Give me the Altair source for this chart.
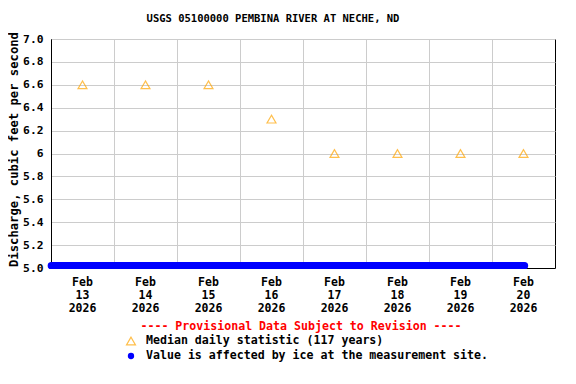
import altair as alt
import pandas as pd

# Median daily statistic (117 years), one per day at noon (day offset from Feb 13 00:00)
median_days = [0.5, 1.5, 2.5, 3.5, 4.5, 5.5, 6.5, 7.5]
median_vals = [6.6, 6.6, 6.6, 6.3, 6.0, 6.0, 6.0, 6.0]

# Ice-affected values, 15-minute readings from Feb 13 00:00 to Feb 20 ~12:30
ice_times = [i / 96 for i in range(0, 7 * 96 + 51)]
ice_vals = [5.02] * len(ice_times)

# X tick labels (centered at noon of each day)
tick_pos = [0.5, 1.5, 2.5, 3.5, 4.5, 5.5, 6.5, 7.5]
tick_labels = ["Feb\n13\n2026", "Feb\n14\n2026", "Feb\n15\n2026", "Feb\n16\n2026",
               "Feb\n17\n2026", "Feb\n18\n2026", "Feb\n19\n2026", "Feb\n20\n2026"]
y_ticks = [5.0, 5.2, 5.4, 5.6, 5.8, 6.0, 6.2, 6.4, 6.6, 6.8, 7.0]

FONT = "DejaVu Sans Mono"
W, H = 504, 229

med_df = pd.DataFrame({"x": median_days, "y": median_vals})
ice_df = pd.DataFrame({"x": ice_times, "y": ice_vals})
tick_df = pd.DataFrame({"x": tick_pos, "label": tick_labels})

xscale = alt.Scale(domain=[0, 8], nice=False, zero=False)
yscale = alt.Scale(domain=[5.0, 7.0], nice=False, zero=False)

xaxis = alt.Axis(values=[1, 2, 3, 4, 5, 6, 7], labels=False, ticks=False, title=None,
                 grid=True, gridColor="#cccccc", domainColor="black")
yaxis = alt.Axis(values=y_ticks, ticks=False, grid=True, gridColor="#cccccc",
                 domainColor="black", labelOverlap=False, labelBound=False,
                 labelExpr="datum.value == 6 ? '6' : format(datum.value, '.1f')",
                 labelFont=FONT, labelFontWeight="bold", labelFontSize=11.3,
                 labelColor="black", labelPadding=8,
                 title="Discharge, cubic feet per second", titleFont=FONT,
                 titleFontWeight="bold", titleFontSize=12.2, titleColor="black",
                 titleX=-38, titleY=110, titleAlign="center", titleBaseline="middle",
                 titleAngle=270)

ice = alt.Chart(ice_df).mark_point(filled=True, shape="circle", size=45,
                                   color="#0000ff", opacity=1, clip=False).encode(
    x=alt.X("x:Q", scale=xscale, axis=xaxis),
    y=alt.Y("y:Q", scale=yscale, axis=yaxis),
)

med = alt.Chart(med_df).mark_point(shape="triangle-up", filled=False, size=80,
                                   color="#ffa500", strokeWidth=1.2).encode(
    x=alt.X("x:Q", scale=xscale, axis=xaxis),
    y=alt.Y("y:Q", scale=yscale, axis=yaxis),
)

ticks = alt.Chart(tick_df).mark_text(font=FONT, fontWeight="bold", fontSize=11.5,
                                     lineBreak="\n", lineHeight=13, baseline="top",
                                     color="black").encode(
    x=alt.X("x:Q", scale=xscale, axis=xaxis),
    y=alt.value(H + 9),
    text="label:N",
)

def label(txt, x, y, color="black", align="center", size=11.6):
    return alt.Chart(pd.DataFrame({"t": [txt]})).mark_text(
        font=FONT, fontWeight="bold", fontSize=size, color=color, align=align,
        baseline="middle").encode(x=alt.value(x), y=alt.value(y), text="t:N")

title = label("USGS 05100000 PEMBINA RIVER AT NECHE, ND", 222, -20, size=10.5)
prov = label("---- Provisional Data Subject to Revision ----", 250, 327 - 39, color="#ff0000")
leg1_sym = alt.Chart(pd.DataFrame({"a": [0]})).mark_point(
    shape="triangle-up", filled=False, size=80, color="#ffa500", strokeWidth=1.2).encode(
    x=alt.value(131 - 51), y=alt.value(341 - 39))
leg1 = label("Median daily statistic (117 years)", 146 - 51, 341 - 39, align="left")
leg2_sym = alt.Chart(pd.DataFrame({"a": [0]})).mark_point(
    shape="circle", filled=True, size=40, color="#0000ff", opacity=1).encode(
    x=alt.value(131 - 51), y=alt.value(356 - 39))
leg2 = label("Value is affected by ice at the measurement site.", 146 - 51, 356 - 39, align="left")

chart = alt.layer(ice, med, ticks, title, prov, leg1_sym, leg1, leg2_sym, leg2).properties(
    width=W, height=H,
    autosize=alt.AutoSizeParams(type="none"),
    padding={"left": 43, "top": 31, "right": 13, "bottom": 100},
    background="white",
).configure_view(stroke="black", strokeWidth=1)

chart.save("out.html", embed_options={"renderer": "svg", "actions": False})
